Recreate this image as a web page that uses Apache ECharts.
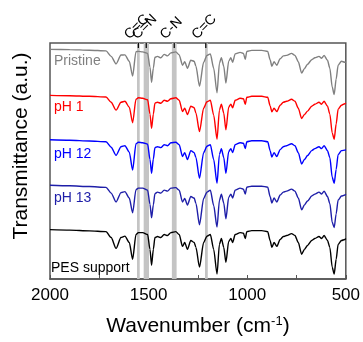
<!DOCTYPE html>
<html><head><meta charset="utf-8">
<script src="https://cdn.jsdelivr.net/npm/echarts@6/dist/echarts.min.js"></script>
<style>html,body{margin:0;padding:0;background:#fff}#c{width:363px;height:342px}</style>
</head><body><div id="c"></div>
<script>
const wavenumbers = [2000,1900,1800,1716,1690,1665,1640,1620,1598,1581,1564,1552,1530,1505,1493,1485,1476,1468,1455,1438,1421,1404,1387,1362,1345,1328,1317,1303,1286,1269,1260,1242,1221,1204,1187,1170,1153,1141,1131,1119,1108,1094,1083,1074,1061,1036,1019,1010,1002,977,926,896,884,875,864,850,833,817,800,775,758,741,724,710,694,673,657,636,623,610,593,581,569,559,549,539,522,505,500];
const seriesNames = ['Pristine','pH 1','pH 12','pH 13','PES support'];
const pristine = [50,49.8,49.2,48.5,43,35.4,44.3,44.5,38,23,47.7,48,47.5,46,32,16.7,31,42,43,41.5,45,43.5,46.5,47.5,44.5,34,37.5,31,39,38,33,12.6,37,44,45.5,31,6,36,41.5,33,16,38,41.5,37,45.5,47,46,40,48,49,49,48,39.5,33,37.5,34,40.5,43.5,44,46,44,37.5,26,30.5,35,39.5,41.5,43,41,44,39,31,12,4.3,20,34,38,37,37];
const ph1 = [50,49.6,49,48.3,43,35,43,44,38,22.3,46,47.5,47,45.5,31,16.6,31,42,43,42,45,44,46.5,47.5,45,33.5,37,30.5,39,37.5,32,13.3,37,43.5,45,30,5.6,35,41,32,15,38,41,37.5,45,47,46.5,41,48,49,49,48,39.5,33.3,37,33.5,40,43,44,46,44,37,26.6,30.5,34,39,41,43,41,44,39,31,12,5.6,21,36,40,41.5,42.3];
const ph12 = [50,49.5,48.8,48,42.5,34.3,43,44,37.5,19.3,46,47.5,47,45.5,30,16,30.5,42,43,42,45,44,47,47.5,45,33,37,30,39,37,32,11,37,43.5,45,30,6,35,41,32,16,38,41,37,45,47,46.5,41,48,49,49,48,39,32.5,37,33,40,43,44,46,44,37,25.5,30,34,39,41,43,41,44,39,32,12,6,20,35,39,39.5,40];
const ph13 = [50,49.4,48.6,47.8,42,33,42.5,43.5,37,22,45.5,47,47,45,30.5,17,30,41.5,43,42,45,44,47,47.5,45,33,36.5,30,38.5,37,31.5,10,36.5,43,45,29.5,7.5,34.5,41,32,16,37.5,41,37,45,47,46,41,48,49,49,48,38.5,32,37,33,40,43,44,46,44,37,25,30,34,39,41,43,41,44,38.5,31.5,12.5,7,21,35,39,40,41];
const pes = [50,49.5,48.7,48,42,31,42,43.4,37,20,45,47,47,45,30,14,30,42,43,42,45,44,47,48,45,33,37,30,39,37,32,12,37,43.4,45,30,5,35,41,32,17,38,41,37,45,47,46.4,41,48,49,49,48,39,32,37,33,40,43,44,46,44,37,25,30,34,39,41,43,41,44,39,32,12,5,20,35,39,40,41];
const stackOffsets = [182.5,136,91,45,0];
const bandRanges = [[1559,1545],[1525,1498],[1382,1358],[1214,1200]];
const bondLabels = ['C=C','C=N','C-N','C=C'];
const bondPositions = [1552,1512,1370,1210];

const colors = ['#808080','#ff0000','#0000ff','#1e1ea8','#000000'];
const allData = [pristine, ph1, ph12, ph13, pes];
const YMAX = 239;
const FONT = 'Arial, "Liberation Sans", sans-serif';

const chart = echarts.init(document.getElementById('c'), null, {renderer:'canvas'});
const series = [{
  type:'line', data:[], silent:true, z:1,
  markArea:{silent:true, itemStyle:{color:'#c4c4c4'},
    data: bandRanges.map(r=>[{xAxis:r[0]},{xAxis:r[1]}])},
  markPoint:{silent:true, symbol:'rect', symbolSize:[1.2,5], symbolOffset:[0,2.5],
    itemStyle:{color:'#000'},
    label:{show:true, formatter:p=>p.name, rotate:45, align:'left', verticalAlign:'middle',
      position:[-11,-6], color:'#000', fontSize:14, fontFamily:FONT},
    data: bondPositions.map((w,i)=>({name:bondLabels[i], coord:[w, YMAX]}))}
}];
allData.forEach((arr,i)=>{
  series.push({type:'line', name:seriesNames[i], z:3, symbol:'none', smooth:0.25, smoothMonotone:'x',
    lineStyle:{color:colors[i], width:1.4}, itemStyle:{color:colors[i]},
    data: wavenumbers.map((w,k)=>[w, arr[k]+stackOffsets[i]])});
});
const labelTops = [62,108,155,199,269];
const graphics = seriesNames.map((n,i)=>({type:'text', left: i===4?51:54, top: labelTops[i]-8,
  style:{text:n, fill:colors[i], fontSize:14, fontFamily:FONT}}));

chart.setOption({
  animation:false,
  textStyle:{fontFamily:FONT},
  grid:{left:50, right:16, top:43, bottom:60, show:true, borderColor:'#555', borderWidth:1.5, backgroundColor:'transparent'},
  xAxis:{type:'value', inverse:true, min:500, max:2000, interval:500,
    axisLine:{show:true, lineStyle:{color:'#555', width:1.5}},
    axisTick:{show:true, inside:true, length:4, lineStyle:{color:'#555'}},
    minorTick:{show:true, splitNumber:2, length:4, lineStyle:{color:'#555'}},
    splitLine:{show:false},
    axisLabel:{color:'#000', fontSize:17, margin:8, fontFamily:FONT, formatter:v=>String(v)},
    name:'{a|Wavenumber (cm}{s|-1}{a|)}', nameLocation:'middle', nameGap:36,
    nameTextStyle:{rich:{a:{fontSize:21, color:'#000', fontFamily:FONT}, s:{fontSize:13, color:'#000', fontFamily:FONT, padding:[0,0,10,0]}}}},
  yAxis:{type:'value', min:0, max:YMAX, axisLine:{show:false}, axisTick:{show:false}, axisLabel:{show:false}, splitLine:{show:false},
    name:'Transmittance (a.u.)', nameLocation:'middle', nameGap:18,
    nameTextStyle:{fontSize:21, color:'#000', fontFamily:FONT, padding:[0,0,0,30]}},
  graphic: graphics,
  series: series
});
</script></body></html>
